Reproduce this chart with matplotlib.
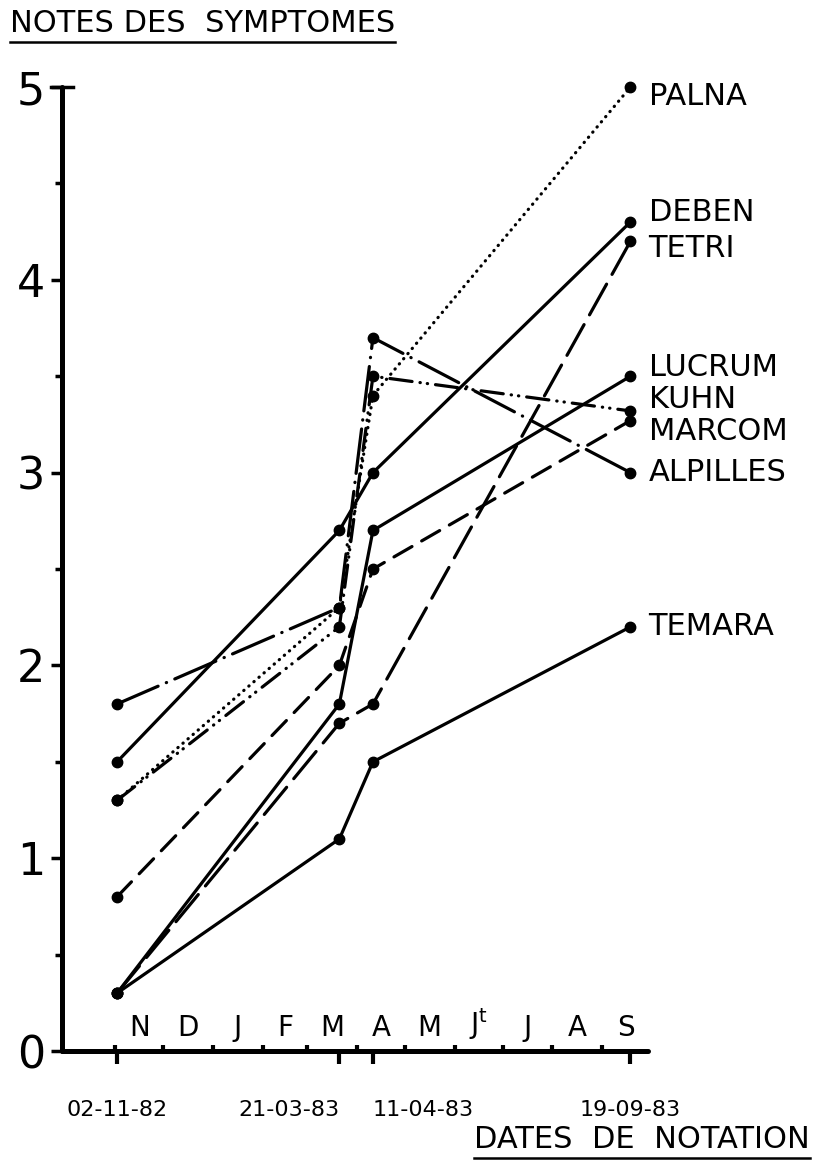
import matplotlib
matplotlib.use('Agg')
import matplotlib.pyplot as plt
import matplotlib.dates as mdates
from matplotlib.lines import Line2D
from matplotlib.ticker import FixedLocator, MultipleLocator

plt.rcParams['font.family'] = ['DejaVu Sans']

# dates de notation
dates = ['1982-11-02', '1983-03-21', '1983-04-11', '1983-09-19']
date_labels = ['02-11-82', '21-03-83', '11-04-83', '19-09-83']

# mois (lettres entre les graduations)
month_starts = ['1982-11-01', '1982-12-01', '1983-01-01', '1983-02-01',
                '1983-03-01', '1983-04-01', '1983-05-01', '1983-06-01',
                '1983-07-01', '1983-08-01', '1983-09-01', '1983-10-01']
month_letters = ['N', 'D', 'J', 'F', 'M', 'A', 'M', 'J$^\\mathrm{t}$', 'J', 'A', 'S']

# notes des symptomes
palna = [1.3, 2.3, 3.4, 5.0]
deben = [1.5, 2.7, 3.0, 4.3]
tetri = [0.3, 1.7, 1.8, 4.2]
lucrum = [0.3, 1.8, 2.7, 3.5]
kuhn = [1.3, 2.2, 3.5, 3.32]
marcom = [0.8, 2.0, 2.5, 3.27]
alpilles = [1.8, 2.3, 3.7, 3.0]
temara = [0.3, 1.1, 1.5, 2.2]

# name, values, dash style, label offset (points)
series = [
    ('PALNA', palna, (0, (0.1, 2.0)), -7),
    ('DEBEN', deben, '-', 7),
    ('TETRI', tetri, (0, (11, 3.5)), -5),
    ('LUCRUM', lucrum, '-', 6),
    ('KUHN', kuhn, (0, (7, 2.5, 0.1, 2.2, 0.1, 2.5)), 8),
    ('MARCOM', marcom, (0, (6.5, 3.5)), -8),
    ('ALPILLES', alpilles, (0, (14, 2.8, 0.1, 2.8)), 0),
    ('TEMARA', temara, '-', 0),
]

x = mdates.datestr2num(dates)

fig = plt.figure(figsize=(8.17, 11.62), dpi=100)
ax = fig.add_axes([0.0759, 0.0955, 0.7173, 0.8296])

for name, vals, ls, dy in series:
    ax.plot(x, vals, color='black', lw=2.3, linestyle=ls,
            dash_capstyle='round', solid_capstyle='round',
            marker='o', ms=7.5, clip_on=False, zorder=3)
    ax.annotate(name, (x[-1], vals[-1]), xytext=(13, dy),
                textcoords='offset points', va='center', ha='left',
                fontsize=22, annotation_clip=False)

ax.set_xlim(mdates.datestr2num('1982-09-28 14:00'), mdates.datestr2num('1983-09-30'))
ax.set_ylim(0, 5)

for s in ['top', 'right']:
    ax.spines[s].set_visible(False)
for s in ['left', 'bottom']:
    ax.spines[s].set_linewidth(3.6)
    ax.spines[s].set_capstyle('round')

# x axis: observation dates (major) and month starts (minor)
ax.xaxis.set_major_locator(FixedLocator(x))
ax.set_xticklabels(date_labels, fontsize=16)
ax.xaxis.set_minor_locator(FixedLocator(mdates.datestr2num(month_starts[:-1])))
ax.tick_params(axis='x', which='major', direction='out', length=9, width=3, pad=26)
ax.tick_params(axis='x', which='minor', direction='in', length=4, width=3)
xl = ax.get_xticklabels()
xl[1].set_ha('right')
xl[1].set_x(x[1] + 1)
xl[2].set_ha('left')

mnum = mdates.datestr2num(month_starts)
for i, lab in enumerate(month_letters):
    mid = (mnum[i] + mnum[i + 1]) / 2
    ax.text(mid, 0.009, lab, transform=ax.get_xaxis_transform(),
            ha='center', va='bottom', fontsize=20)

# y axis
ax.yaxis.set_major_locator(MultipleLocator(1))
ax.yaxis.set_minor_locator(MultipleLocator(0.5))
ax.tick_params(axis='y', which='major', direction='out', length=8, width=2.5,
               labelsize=32, pad=4)
ax.tick_params(axis='y', which='minor', direction='out', length=5, width=2.5)
ax.plot([-0.018, 0.018], [5, 5], transform=ax.get_yaxis_transform(),
        color='black', lw=2.5, clip_on=False)

# axis titles, underlined
t1 = fig.text(10 / 817, 1 - 24 / 1162, 'NOTES DES  SYMPTOMES', fontsize=22,
              ha='left', va='center')
t2 = fig.text(810 / 817, 1 - 1140 / 1162, 'DATES  DE  NOTATION', fontsize=22,
              ha='right', va='center')
fig.canvas.draw()
r = fig.canvas.get_renderer()
for t in (t1, t2):
    bb = t.get_window_extent(r).transformed(fig.transFigure.inverted())
    fig.add_artist(Line2D([bb.x0, bb.x1], [bb.y0 - 0.003, bb.y0 - 0.003],
                          color='black', lw=1.8, transform=fig.transFigure))

fig.savefig('out.png', dpi=100)
